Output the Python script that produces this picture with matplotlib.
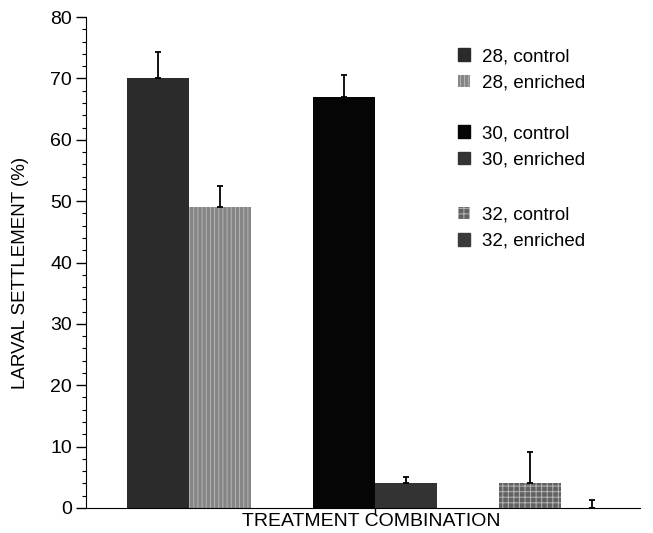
import matplotlib.pyplot as plt
from matplotlib.patches import Patch
from matplotlib.ticker import MultipleLocator

plt.rcParams['font.family'] = ['Liberation Sans', 'DejaVu Sans']
plt.rcParams['hatch.linewidth'] = 0.7

labels = ['28, control', '28, enriched', '30, control', '30, enriched',
          '32, control', '32, enriched']
values = [70, 49, 67, 4, 4, 0]
errors = [4.3, 3.5, 3.5, 1.0, 5.1, 1.3]
positions = [0, 1, 3, 4, 6, 7]
colors = ['#2b2b2b', '#858585', '#050505', '#333333', '#626262', '#3a3a3a']
hatches = ['', '||||', '', '', '+++', '']
hatch_col = '#b5b5b5'

fig = plt.figure(figsize=(6.53, 5.33), dpi=100)
ax = fig.add_axes([0.1317, 0.047, 0.848, 0.921])

for p, v, e, c, h in zip(positions, values, errors, colors, hatches):
    ax.bar(p, v, width=1.0, color=c, linewidth=0)
    if h:
        ax.bar(p, v, width=1.0, facecolor='none', edgecolor=hatch_col,
               hatch=h, linewidth=0)
    ax.errorbar(p, v, yerr=[[0], [e]], fmt='none', ecolor='black',
                elinewidth=1.3, capsize=2, capthick=1.3)

ax.set_xlim(-1.16, 7.77)
ax.set_ylim(0, 80)
ax.yaxis.set_major_locator(MultipleLocator(10))
ax.yaxis.set_minor_locator(MultipleLocator(2))
ax.set_xticks([3.5])
ax.set_xticklabels([''])
ax.tick_params(axis='x', length=4, width=1)
ax.tick_params(axis='y', which='major', length=7, width=1, labelsize=14, pad=3)
ax.tick_params(axis='y', which='minor', length=3, width=0.8)
ax.spines['top'].set_visible(False)
ax.spines['right'].set_visible(False)

fig.text(0.031, 0.487, 'LARVAL SETTLEMENT (%)', fontsize=13.5,
         rotation=90, ha='center', va='center')
fig.text(0.569, 0.022, 'TREATMENT COMBINATION', fontsize=14,
         ha='center', va='center')

# three separate two-row legends, like the reference's grouped key
tops = [0.956, 0.799, 0.633]
for g in range(3):
    hs = []
    for i in (2 * g, 2 * g + 1):
        if hatches[i]:
            hs.append(Patch(facecolor=colors[i], edgecolor=hatch_col,
                            hatch=hatches[i], linewidth=0))
        else:
            hs.append(Patch(facecolor=colors[i], edgecolor=colors[i]))
    leg = ax.legend(hs, labels[2 * g:2 * g + 2], loc='upper left',
                    bbox_to_anchor=(0.655, tops[g]), frameon=False,
                    fontsize=13.5, handlelength=0.65, handleheight=0.65,
                    handletextpad=0.6, labelspacing=0.5, borderpad=0)
    if g < 2:
        ax.add_artist(leg)

fig.savefig('out.png', dpi=100)
